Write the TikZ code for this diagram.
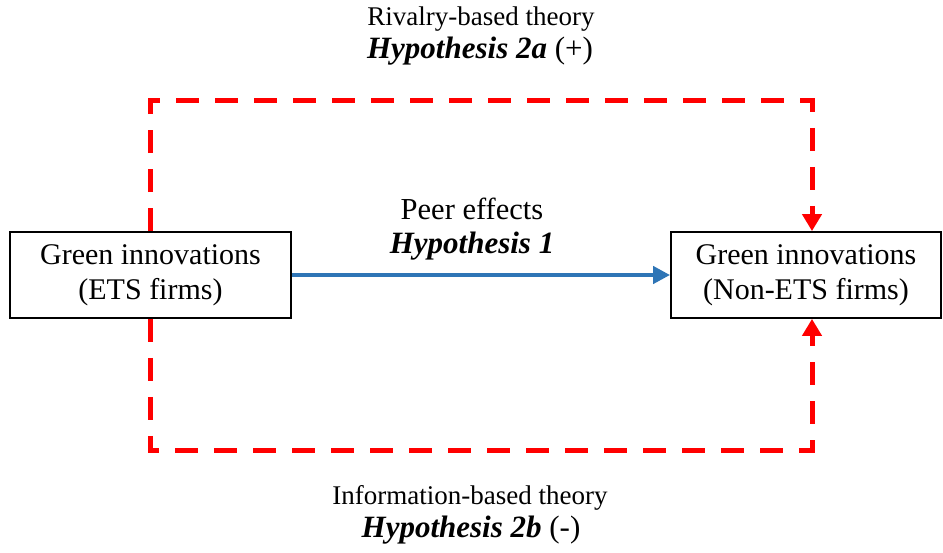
\documentclass[tikz,border=0pt]{standalone}
\usepackage{fontspec}
\setmainfont{Liberation Serif}
\usetikzlibrary{arrows.meta}
\definecolor{hblue}{HTML}{2E75B6}
\definecolor{hred}{HTML}{FF0000}
\begin{document}
\begin{tikzpicture}[x=1pt,y=-1pt,
  box/.style={draw=black,line width=1.8pt,minimum height=86pt,align=center,
    font=\fontsize{30}{35}\selectfont,inner sep=0pt},
  txt/.style={anchor=base,inner sep=0pt},
  reddash/.style={draw=hred,line width=5pt,dash pattern=on 23pt off 16pt,
    -{Triangle[length=17pt,width=19pt]}},
  bluearrow/.style={draw=hblue,line width=4.5pt,-{Triangle[length=17pt,width=17pt]}}]
\useasboundingbox (0,0) rectangle (943,552);
\node[box,minimum width=281pt] (L) at (150.5,275) {Green innovations\\(ETS firms)};
\node[box,minimum width=270pt] (R) at (806,275) {Green innovations\\(Non-ETS firms)};
\coordinate (topmid) at (481,100.7);
\coordinate (botmid) at (481,450);
\coordinate (Rtop) at ([xshift=6pt]R.north);
\coordinate (Rbot) at ([xshift=6pt]R.south);
\draw[reddash] (L.north) |- (topmid) -| (Rtop);
\draw[reddash] (L.south) |- (botmid) -| (Rbot);
\draw[bluearrow] (L.east) -- (R.west);
\node[txt,font=\fontsize{30.5}{33}\selectfont] (peer1) at (472,219) {Peer effects};
\node[txt,font=\fontsize{31}{33}\selectfont] (peer2) at (472,253) {\textbf{\textit{Hypothesis 1}}};
\node[txt,font=\fontsize{27}{33}\selectfont] (top1) at (481,25) {Rivalry-based theory};
\node[txt,font=\fontsize{31}{33}\selectfont] (top2) at (480,58) {\textbf{\textit{Hypothesis 2a}} (+)};
\node[txt,font=\fontsize{27}{33}\selectfont] (bot1) at (470,504) {Information-based theory};
\node[txt,font=\fontsize{31}{33}\selectfont] (bot2) at (471,537) {\textbf{\textit{Hypothesis 2b}} (-)};
\end{tikzpicture}
\end{document}
